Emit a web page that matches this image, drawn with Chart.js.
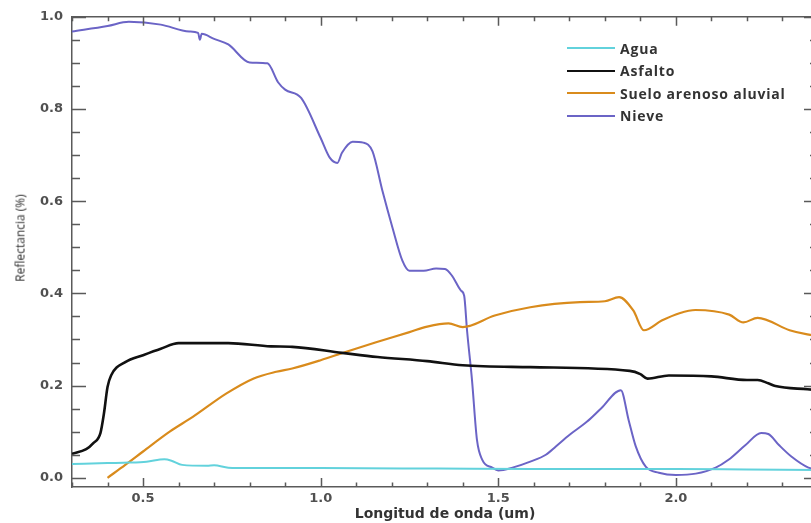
<!DOCTYPE html>
<html>
<head>
<meta charset="utf-8">
<script src="https://cdn.jsdelivr.net/npm/chart.js@4/dist/chart.umd.min.js"></script>
<style>
    html, body { margin: 0; padding: 0; background: #fff; overflow: hidden; }
    #wrap { position: relative; width: 811px; height: 523px; overflow: hidden; }
    #chart { position: absolute; left: 0; top: 0; }
    #ytitle {
        position: absolute; left: 20px; top: 238px;
        transform: translate(-50%, -50%) rotate(-90deg);
        font: 12px 'Open Sans', sans-serif; color: #2e2e2e; white-space: nowrap;
    }
    #legend { position: absolute; left: 567px; top: 37px; font: bold 14px 'Open Sans', sans-serif; color: #333; letter-spacing: 0.8px; }
    .item { display: flex; align-items: center; height: 22.5px; }
    .swatch { width: 48px; margin-right: 5px; border-top-style: solid; }
</style>
</head>
<body>
<div id="wrap">
    <canvas id="chart" width="830" height="523"></canvas>
    <div id="ytitle">Reflectancia (%)</div>
    <div id="legend"></div>
</div>
<script>
// Wavelength (um) and reflectance values
const waveAgua = [0.30, 0.40, 0.46, 0.51, 0.56, 0.58, 0.61, 0.68, 0.70, 0.74, 0.80, 1.00, 1.33, 1.60, 2.00, 2.20, 2.40];
const reflAgua = [0.030, 0.032, 0.033, 0.035, 0.040, 0.037, 0.028, 0.026, 0.027, 0.022, 0.021, 0.021, 0.020, 0.019, 0.019, 0.018, 0.017];

const waveAsfalto = [0.30, 0.34, 0.36, 0.38, 0.39, 0.40, 0.41, 0.45, 0.50, 0.55, 0.60, 0.74, 0.86, 0.92, 1.06, 1.16, 1.30, 1.40, 1.59, 1.87, 1.90, 1.92, 1.98, 2.10, 2.20, 2.23, 2.26, 2.28, 2.37, 2.40];
const reflAsfalto = [0.052, 0.062, 0.075, 0.097, 0.140, 0.197, 0.222, 0.251, 0.266, 0.280, 0.292, 0.292, 0.285, 0.284, 0.271, 0.262, 0.253, 0.244, 0.240, 0.232, 0.225, 0.215, 0.222, 0.220, 0.212, 0.212, 0.205, 0.199, 0.192, 0.190];

const waveSuelo = [0.40, 0.45, 0.50, 0.575, 0.64, 0.735, 0.81, 0.875, 0.92, 1.00, 1.07, 1.156, 1.25, 1.30, 1.36, 1.40, 1.49, 1.59, 1.73, 1.80, 1.84, 1.88, 1.91, 1.96, 2.01, 2.055, 2.15, 2.19, 2.23, 2.32, 2.37, 2.40];
const reflSuelo = [0.000, 0.028, 0.057, 0.100, 0.132, 0.183, 0.215, 0.230, 0.237, 0.255, 0.273, 0.294, 0.316, 0.328, 0.335, 0.327, 0.352, 0.370, 0.381, 0.383, 0.392, 0.363, 0.320, 0.341, 0.357, 0.364, 0.354, 0.337, 0.347, 0.320, 0.311, 0.308];

const waveNieve = [0.30, 0.40, 0.46, 0.55, 0.63, 0.655, 0.66, 0.665, 0.70, 0.74, 0.80, 0.85, 0.88, 0.90, 0.945, 1.00, 1.025, 1.047, 1.06, 1.09, 1.12, 1.146, 1.174, 1.202, 1.23, 1.25, 1.29, 1.325, 1.35, 1.37, 1.395, 1.404, 1.412, 1.426, 1.44, 1.455, 1.483, 1.50, 1.54, 1.59, 1.634, 1.662, 1.70, 1.75, 1.79, 1.845, 1.867, 1.887, 1.915, 1.952, 2.00, 2.056, 2.112, 2.148, 2.196, 2.24, 2.26, 2.29, 2.325, 2.373, 2.40];
const reflNieve = [0.968, 0.980, 0.989, 0.983, 0.968, 0.965, 0.950, 0.963, 0.952, 0.940, 0.901, 0.899, 0.858, 0.842, 0.824, 0.737, 0.695, 0.683, 0.705, 0.729, 0.727, 0.708, 0.622, 0.543, 0.471, 0.449, 0.449, 0.454, 0.453, 0.438, 0.406, 0.395, 0.320, 0.212, 0.082, 0.039, 0.022, 0.016, 0.022, 0.035, 0.050, 0.068, 0.093, 0.122, 0.151, 0.190, 0.125, 0.068, 0.024, 0.011, 0.006, 0.009, 0.022, 0.039, 0.071, 0.097, 0.095, 0.071, 0.046, 0.022, 0.018];

const seriesNames = ['Agua', 'Asfalto', 'Suelo arenoso aluvial', 'Nieve'];
const xTickRange = [0.3, 2.4];
const yTickRange = [-0.02, 1.0];
const xStep = 0.1, xLabelStep = 0.5;
const yStep = 0.05, yLabelStep = 0.2;

const toPoints = (xs, ys) => xs.map((x, i) => ({ x: x, y: ys[i] }));
const onStep = (v, step) => Math.abs(v / step - Math.round(v / step)) < 1e-6;

const seriesData = [
    toPoints(waveAgua, reflAgua),
    toPoints(waveAsfalto, reflAsfalto),
    toPoints(waveSuelo, reflSuelo),
    toPoints(waveNieve, reflNieve)
];
const seriesColors = ['#62d2dc', '#111111', '#d98b1c', '#6b64c6'];
const seriesWidths = [2, 2.6, 2.2, 2];

const axisColor = '#5a5a5a';

// inward tick marks on all four sides, long where there is a label
const innerTicks = {
    id: 'innerTicks',
    afterDraw(chart) {
        const { ctx, chartArea: a, scales } = chart;
        ctx.save();
        ctx.strokeStyle = axisColor;
        ctx.lineWidth = 1.5;
        ctx.beginPath();
        ctx.moveTo(a.left, a.top); ctx.lineTo(a.right, a.top); ctx.lineTo(a.right, a.bottom);
        for (let k = Math.ceil(xTickRange[0] / xStep - 1e-6); k * xStep <= xTickRange[1] + 1e-6; k++) {
            const v = k * xStep;
            const len = onStep(v, xLabelStep) ? 9 : 4.5;
            const px = Math.round(scales.x.getPixelForValue(v)) + 0.5;
            ctx.moveTo(px, a.bottom); ctx.lineTo(px, a.bottom - len);
            ctx.moveTo(px, a.top); ctx.lineTo(px, a.top + len);
        }
        for (let k = 0; k * yStep <= yTickRange[1] + 1e-6; k++) {
            const v = k * yStep;
            const len = onStep(v, yLabelStep) ? 14 : 8;
            const py = Math.round(scales.y.getPixelForValue(v)) + 0.5;
            ctx.moveTo(a.left, py); ctx.lineTo(a.left + len, py);
            ctx.moveTo(a.right, py); ctx.lineTo(a.right - len, py);
        }
        ctx.stroke();
        ctx.restore();
    }
};

const chart = new Chart(document.getElementById('chart'), {
    type: 'line',
    data: {
        datasets: seriesNames.map((name, i) => ({
            label: name,
            data: seriesData[i],
            borderColor: seriesColors[i],
            backgroundColor: seriesColors[i],
            borderWidth: seriesWidths[i],
            pointRadius: 0,
            fill: false,
            cubicInterpolationMode: 'monotone'
        }))
    },
    options: {
        responsive: false,
        animation: false,
        layout: { padding: { top: 15, right: 12, left: 0, bottom: 0 } },
        plugins: { legend: { display: false }, tooltip: { enabled: false } },
        scales: {
            x: {
                type: 'linear',
                min: xTickRange[0],
                max: xTickRange[1],
                afterFit: s => { s.height = 36; },
                grid: { drawOnChartArea: false, drawTicks: false },
                border: { color: axisColor, width: 1.5 },
                ticks: {
                    stepSize: xStep,
                    autoSkip: false,
                    maxRotation: 0,
                    padding: 4,
                    color: '#505050',
                    font: { family: 'DejaVu Sans', size: 13, weight: 'bold' },
                    callback: v => onStep(v, xLabelStep) ? v.toFixed(1) : ''
                },
                title: {
                    display: true,
                    text: 'Longitud de onda (um)',
                    color: '#333',
                    font: { family: 'DejaVu Sans', size: 14, weight: 'bold' },
                    padding: { top: 0, bottom: 0 }
                }
            },
            y: {
                min: yTickRange[0],
                max: yTickRange[1],
                afterFit: s => { s.width = 72; },
                grid: { drawOnChartArea: false, drawTicks: false },
                border: { color: axisColor, width: 1.5 },
                ticks: {
                    stepSize: yStep,
                    includeBounds: false,
                    autoSkip: false,
                    padding: 9,
                    color: '#505050',
                    font: { family: 'DejaVu Sans', size: 13, weight: 'bold' },
                    callback: v => onStep(v, yLabelStep) ? v.toFixed(1) : ''
                }
            }
        }
    },
    plugins: [innerTicks]
});

// legend built from the chart's datasets
document.getElementById('legend').innerHTML = chart.data.datasets.map(ds => `
    <div class="item">
        <span class="swatch" style="border-top-color:${ds.borderColor}; border-top-width:${ds.borderWidth}px;"></span>
        <span>${ds.label}</span>
    </div>
`).join('');
</script>
</body>
</html>
